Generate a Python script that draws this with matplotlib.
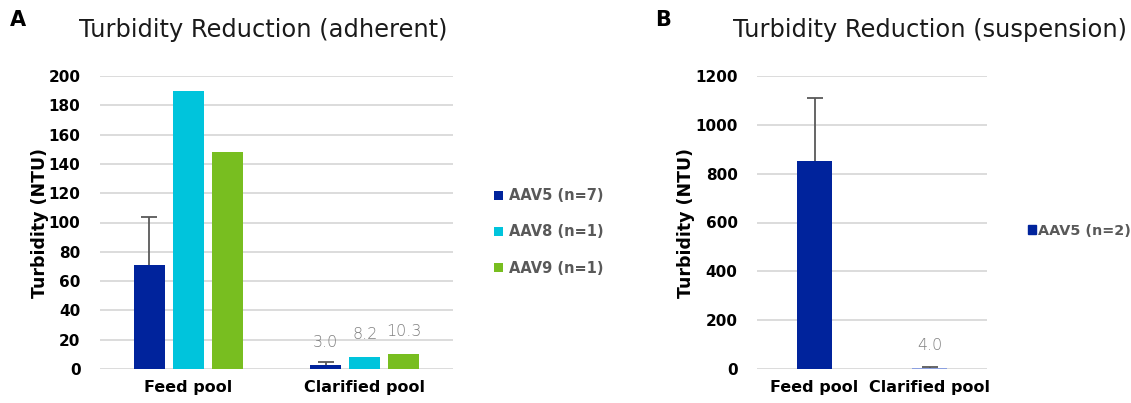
import numpy as np
import matplotlib
matplotlib.use("Agg")
import matplotlib.pyplot as plt

plt.rcParams['font.family'] = ['DejaVu Sans']

# Panel A data
pools = ["Feed pool", "Clarified pool"]
series_a = ["AAV5 (n=7)", "AAV8 (n=1)", "AAV9 (n=1)"]
aav5_a = [71, 3.0]
aav8_a = [190, 8.2]
aav9_a = [148, 10.3]
aav5_a_err = [33, 1.5]
colors_a = ["#00239C", "#00C4DC", "#78BE20"]

# Panel B data
series_b = ["AAV5 (n=2)"]
aav5_b = [852, 4.0]
aav5_b_err = [258, 3.0]

grid_col = "#D9D9D9"
text_gray = "#595959"
label_gray = "#7F7F7F"

fig = plt.figure(figsize=(11.31, 4.03), dpi=100)
axA = fig.add_axes([100/1131, 1-369/403, 353/1131, 293/403])
axB = fig.add_axes([757/1131, 1-369/403, 230/1131, 293/403])


def style(ax, ymax, step):
    ax.set_ylim(0, ymax)
    ax.set_yticks(np.arange(0, ymax + 1, step))
    ax.yaxis.grid(True, color=grid_col, linewidth=1.3)
    ax.set_axisbelow(True)
    for s in ax.spines.values():
        s.set_visible(False)
    ax.tick_params(axis="y", length=0, labelsize=11, pad=14)
    ax.tick_params(axis="x", length=0, labelsize=11.5, pad=8)
    for lab in ax.get_yticklabels() + ax.get_xticklabels():
        lab.set_fontweight("bold")
    ax.set_ylabel("Turbidity (NTU)", fontsize=12.5, fontweight="bold", labelpad=0)


def upper_err(ax, pos, vals, errs):
    # error bar drawn upward only, single cap on top
    eb = ax.errorbar(pos, vals, yerr=[[0] * len(vals), errs], fmt="none",
                     ecolor=text_gray, elinewidth=1.3, capsize=6, capthick=1.3, zorder=3)
    eb[1][0].set_visible(False)


# ---- Panel A
x = np.arange(len(pools))
w = 0.176
step = 0.221
vals = [aav5_a, aav8_a, aav9_a]
for i, (v, c, name) in enumerate(zip(vals, colors_a, series_a)):
    pos = x + (i - 1) * step
    axA.bar(pos, v, width=w, color=c, label=name, zorder=2)
    if i == 0:
        upper_err(axA, pos, v, aav5_a_err)
# value labels on clarified pool
for i, v in enumerate(vals):
    axA.text(1 + (i - 1) * step, v[1] + 10, f"{v[1]:.1f}", ha="center", va="bottom",
             fontsize=11.5, color=label_gray, fontweight="light")
axA.set_xticks(x)
axA.set_xticklabels(pools)
axA.set_xlim(-0.5, 1.5)
style(axA, 200, 20)
axA.legend(loc="center left", bbox_to_anchor=(1.08, 0.4676), frameon=False,
           handlelength=0.6, handleheight=0.6, handletextpad=0.4, labelspacing=1.45,
           prop={"weight": "bold", "size": 10.5}, labelcolor=text_gray)

# ---- Panel B
wb = 0.31
axB.bar(x, aav5_b, width=wb, color=[colors_a[0], "#8CA0E0"], zorder=2)
upper_err(axB, x, aav5_b, aav5_b_err)
axB.text(1, aav5_b[1] + 60, f"{aav5_b[1]:.1f}", ha="center", va="bottom",
         fontsize=11.5, color=label_gray, fontweight="light")
axB.set_xticks(x)
axB.set_xticklabels(pools)
axB.set_xlim(-0.5, 1.5)
style(axB, 1200, 200)
hB = plt.Rectangle((0, 0), 1, 1, color=colors_a[0])
axB.legend([hB], series_b, loc="center left", bbox_to_anchor=(1.12, 0.471), frameon=False,
           handlelength=0.6, handleheight=0.6, handletextpad=0.15,
           prop={"weight": "bold", "size": 10.4}, labelcolor=text_gray)

# titles and panel letters
fig.text(79/1131, 1-30/403, "Turbidity Reduction (adherent)", fontsize=17.4,
         va="center", ha="left", color="#1a1a1a")
fig.text(733/1131, 1-30/403, "Turbidity Reduction (suspension)", fontsize=17.4,
         va="center", ha="left", color="#1a1a1a")
fig.text(10/1131, 1-20/403, "A", fontsize=15, fontweight="bold", va="center")
fig.text(655/1131, 1-20/403, "B", fontsize=15, fontweight="bold", va="center")

fig.savefig("out.png", dpi=100)
